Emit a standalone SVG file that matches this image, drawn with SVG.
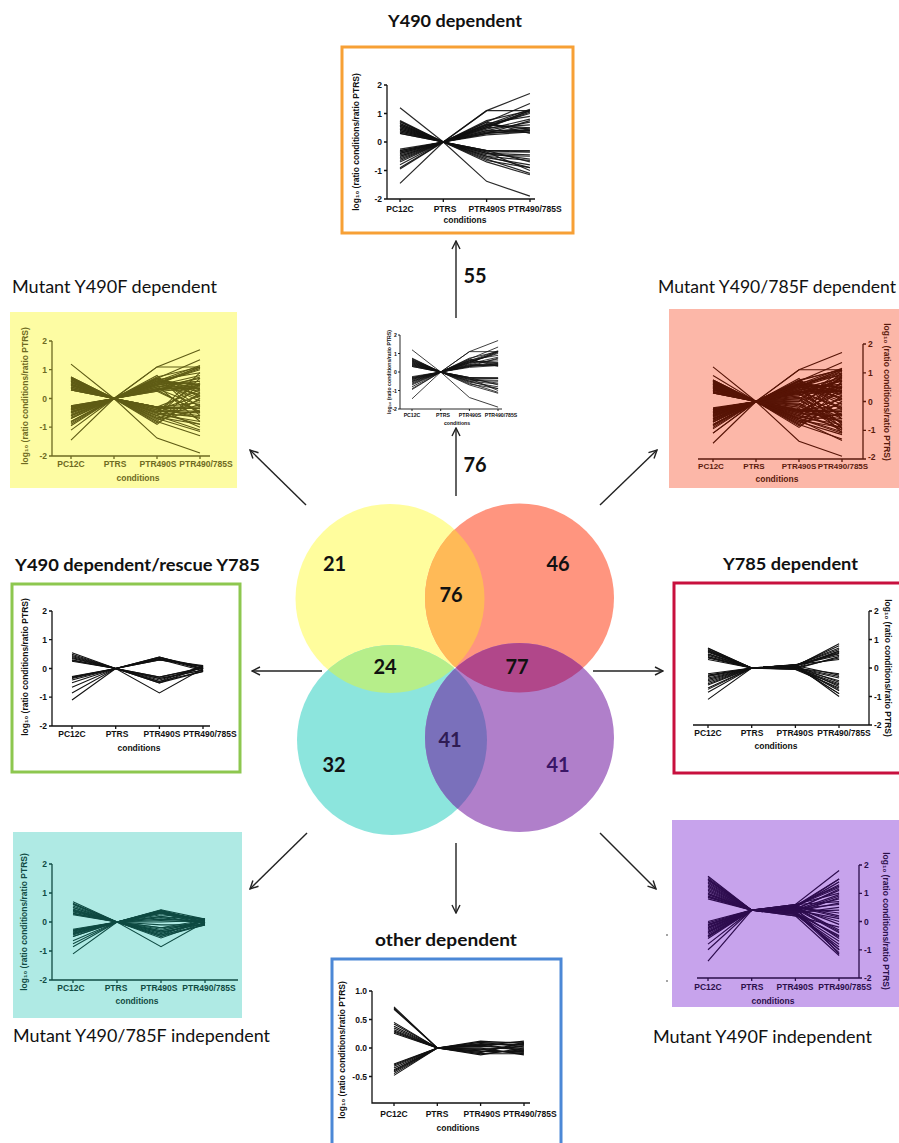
<svg xmlns="http://www.w3.org/2000/svg" xmlns:xlink="http://www.w3.org/1999/xlink" width="899" height="1143" viewBox="0 0 899 1143">
<style>
.ttl{font-family:Lato,"Open Sans","Liberation Sans",sans-serif;font-size:17px;fill:#111}
.b{font-weight:bold}
.num{font-family:Lato,"Open Sans","Liberation Sans",sans-serif;font-weight:bold;font-size:20px;text-anchor:middle;fill:#111}
.ax text{font-family:"Liberation Sans",Arial,sans-serif;font-weight:bold;font-size:8.5px;fill:currentColor}
.ax path{stroke:currentColor;stroke-width:1.3;fill:none}
.ax .m{text-anchor:middle}
.ax .e{text-anchor:end}
.ax .s{text-anchor:start}
.ax .sm{font-size:5.2px}
.d polyline{fill:none;vector-effect:non-scaling-stroke}
.conn line{stroke:#222;stroke-width:1.4;marker-end:url(#ah)}
</style>
<defs>
<marker id="ah" viewBox="0 0 10 10" refX="9" refY="5" markerWidth="10" markerHeight="10" markerUnits="userSpaceOnUse" orient="auto"><path d="M1,1 L9,5 L1,9" fill="none" stroke="#222" stroke-width="1.4"/></marker>
<clipPath id="cY"><circle cx="390" cy="598.5" r="94.5"/></clipPath>
<clipPath id="cR"><circle cx="519.5" cy="598" r="94.5"/></clipPath>
<clipPath id="cT"><circle cx="392" cy="740" r="95"/></clipPath>
<g id="dA" class="d">
<polyline points="0,1.2 1,0 2,-1.38 3,-1.9"/><polyline points="0,-1.45 1,0 2,1.1 3,1.7"/>
<polyline points="0,0.75 1,0 2,0.7 3,1.35"/><polyline points="0,0.7 1,0 2,0.6 3,1.15"/>
<polyline points="0,0.65 1,0 2,0.55 3,1.1"/><polyline points="0,0.6 1,0 2,0.5 3,1.05"/>
<polyline points="0,0.55 1,0 2,0.75 3,1.1"/><polyline points="0,0.5 1,0 2,0.45 3,0.8"/>
<polyline points="0,0.45 1,0 2,0.4 3,0.7"/><polyline points="0,0.4 1,0 2,0.35 3,0.5"/>
<polyline points="0,0.35 1,0 2,0.3 3,0.4"/><polyline points="0,0.3 1,0 2,0.25 3,0.35"/>
<polyline points="0,0.5 1,0 2,-0.3 3,-0.35"/><polyline points="0,0.4 1,0 2,-0.4 3,-0.6"/>
<polyline points="0,0.6 1,0 2,-0.5 3,-0.9"/><polyline points="0,0.35 1,0 2,-0.35 3,-1"/>
<polyline points="0,-0.25 1,0 2,0.3 3,0.45"/><polyline points="0,-0.3 1,0 2,0.4 3,0.4"/>
<polyline points="0,-0.35 1,0 2,0.5 3,0.6"/><polyline points="0,-0.4 1,0 2,0.55 3,1"/>
<polyline points="0,-0.45 1,0 2,0.65 3,0.9"/><polyline points="0,-0.5 1,0 2,0.7 3,0.3"/>
<polyline points="0,-0.55 1,0 2,-0.3 3,-0.3"/><polyline points="0,-0.6 1,0 2,-0.4 3,-0.45"/>
<polyline points="0,-0.65 1,0 2,-0.5 3,-0.65"/><polyline points="0,-0.7 1,0 2,-0.55 3,-0.8"/>
<polyline points="0,-0.8 1,0 2,-0.6 3,-1.1"/><polyline points="0,-0.9 1,0 2,-0.7 3,-1.15"/>
<polyline points="0,-0.95 1,0 2,-0.45 3,-0.5"/><polyline points="0,0.72 1,0 2,0.62 3,0.45"/>
<polyline points="0,0.45 1,0 2,0.5 3,1.1"/><polyline points="0,-0.3 1,0 2,-0.35 3,-0.35"/>
<polyline points="0,-0.4 1,0 2,-0.3 3,-0.7"/><polyline points="0,0.3 1,0 2,0.35 3,0.35"/>
<polyline points="0,0.65 1,0 2,1.1 3,1.1"/><polyline points="0,-0.35 1,0 2,-0.65 3,-0.9"/>
<polyline points="0,0.55 1,0 2,0.3 3,0.75"/><polyline points="0,-0.5 1,0 2,0.6 3,0.5"/>
</g>
<g id="dB" class="d">
<polyline points="0,0.7 1,0 2,0.7 3,0.2"/><polyline points="0,0.65 1,0 2,0.6 3,-0.1"/>
<polyline points="0,0.6 1,0 2,0.55 3,0"/><polyline points="0,0.55 1,0 2,0.7 3,-0.3"/>
<polyline points="0,0.5 1,0 2,0.4 3,0.6"/><polyline points="0,0.45 1,0 2,0.3 3,-0.5"/>
<polyline points="0,0.4 1,0 2,0.65 3,0.1"/><polyline points="0,0.35 1,0 2,0.8 3,-0.6"/>
<polyline points="0,0.3 1,0 2,0.5 3,0.25"/><polyline points="0,-0.25 1,0 2,-0.8 3,0.5"/>
<polyline points="0,-0.3 1,0 2,-0.9 3,0.2"/><polyline points="0,-0.35 1,0 2,-0.7 3,-0.2"/>
<polyline points="0,-0.4 1,0 2,-0.85 3,0"/><polyline points="0,-0.45 1,0 2,-0.6 3,0.7"/>
<polyline points="0,-0.5 1,0 2,-0.75 3,-0.4"/><polyline points="0,-0.6 1,0 2,-0.5 3,0.9"/>
<polyline points="0,-0.7 1,0 2,-0.4 3,0.1"/><polyline points="0,-0.8 1,0 2,-0.3 3,-0.15"/>
<polyline points="0,-1.1 1,0 2,-0.8 3,-1.3"/><polyline points="0,0.75 1,0 2,0.45 3,-0.8"/>
<polyline points="0,0.68 1,0 2,-0.3 3,0.3"/><polyline points="0,0.58 1,0 2,-0.45 3,0.55"/>
<polyline points="0,0.48 1,0 2,-0.6 3,-0.05"/><polyline points="0,-0.28 1,0 2,0.35 3,-0.25"/>
<polyline points="0,-0.38 1,0 2,0.45 3,0.15"/><polyline points="0,-0.48 1,0 2,0.25 3,-0.45"/>
<polyline points="0,-0.58 1,0 2,0.6 3,0.35"/><polyline points="0,-0.85 1,0 2,0.72 3,0.05"/>
</g>
<g id="dC" class="d">
<polyline points="0,0.74 1,0 2,0.2 3,0.9"/><polyline points="0,0.62 1,0 2,0.1 3,0.75"/>
<polyline points="0,0.52 1,0 2,0 3,0.6"/><polyline points="0,0.42 1,0 2,-0.1 3,0.85"/>
<polyline points="0,0.32 1,0 2,-0.2 3,1"/><polyline points="0,0.7 1,0 2,0.15 3,-0.6"/>
<polyline points="0,0.6 1,0 2,0.05 3,-0.75"/><polyline points="0,0.5 1,0 2,-0.05 3,-1"/>
<polyline points="0,0.4 1,0 2,-0.15 3,-0.85"/><polyline points="0,-0.22 1,0 2,0.2 3,0.8"/>
<polyline points="0,-0.32 1,0 2,0.1 3,-0.9"/><polyline points="0,-0.42 1,0 2,0 3,1.1"/>
<polyline points="0,-0.52 1,0 2,-0.1 3,-0.7"/><polyline points="0,-0.62 1,0 2,-0.2 3,0.65"/>
<polyline points="0,-0.72 1,0 2,0.3 3,-1.1"/><polyline points="0,-0.82 1,0 2,-0.25 3,0.55"/>
<polyline points="0,0.9 1,0 2,0.5 3,0.95"/><polyline points="0,-1.1 1,0 2,-0.65 3,-1.35"/>
<polyline points="0,0.66 1,0 2,0.72 3,1.12"/><polyline points="0,-0.36 1,0 2,-0.58 3,-1.05"/>
<polyline points="0,0.56 1,0 2,0.35 3,-0.2"/><polyline points="0,-0.26 1,0 2,-0.35 3,0.4"/>
<polyline points="0,0.46 1,0 2,0.58 3,-0.95"/><polyline points="0,-0.66 1,0 2,0.4 3,0.85"/>
</g>
<g id="dD" class="d">
<polyline points="0,0.55 1,0 2,0.35 3,0.05"/><polyline points="0,0.5 1,0 2,0.4 3,0"/>
<polyline points="0,0.45 1,0 2,0.3 3,0.08"/><polyline points="0,0.42 1,0 2,-0.35 3,-0.05"/>
<polyline points="0,0.38 1,0 2,-0.45 3,0.1"/><polyline points="0,0.35 1,0 2,0.32 3,-0.08"/>
<polyline points="0,0.3 1,0 2,-0.3 3,0.02"/><polyline points="0,0.28 1,0 2,-0.5 3,-0.1"/>
<polyline points="0,0.25 1,0 2,0.38 3,0.06"/><polyline points="0,-0.3 1,0 2,0.35 3,-0.03"/>
<polyline points="0,-0.32 1,0 2,-0.4 3,0.04"/><polyline points="0,-0.35 1,0 2,-0.35 3,-0.06"/>
<polyline points="0,-0.4 1,0 2,-0.85 3,0"/><polyline points="0,-0.5 1,0 2,0.3 3,0.1"/>
<polyline points="0,-0.65 1,0 2,-0.45 3,-0.1"/><polyline points="0,-0.85 1,0 2,-0.3 3,0.03"/>
<polyline points="0,-1.1 1,0 2,0.4 3,-0.02"/><polyline points="0,-0.28 1,0 2,-0.5 3,0.05"/>
</g>
<g id="dE" class="d">
<polyline points="0,0.7 1,0 2,0.42 3,0.1"/><polyline points="0,0.65 1,0 2,0.2 3,-0.05"/>
<polyline points="0,0.6 1,0 2,0.1 3,0.02"/><polyline points="0,0.5 1,0 2,-0.1 3,-0.1"/>
<polyline points="0,0.4 1,0 2,-0.2 3,0.07"/><polyline points="0,0.3 1,0 2,0.15 3,-0.03"/>
<polyline points="0,-0.25 1,0 2,0 3,0.05"/><polyline points="0,-0.3 1,0 2,-0.2 3,-0.08"/>
<polyline points="0,-0.38 1,0 2,0.25 3,0.1"/><polyline points="0,-0.45 1,0 2,-0.55 3,-0.02"/>
<polyline points="0,-0.5 1,0 2,0.05 3,0"/><polyline points="0,-0.75 1,0 2,-0.25 3,0.04"/>
<polyline points="0,0.62 1,0 2,0.3 3,-0.07"/><polyline points="0,-0.42 1,0 2,0.18 3,0.09"/>
</g>
<g id="dF" class="d">
<polyline points="0,0.7 1,0 2,0.05 3,0.85"/><polyline points="0,0.65 1,0 2,0.1 3,0.7"/>
<polyline points="0,0.6 1,0 2,0 3,0.6"/><polyline points="0,0.55 1,0 2,0.08 3,0.5"/>
<polyline points="0,0.5 1,0 2,-0.03 3,0.4"/><polyline points="0,0.45 1,0 2,0.12 3,0.3"/>
<polyline points="0,0.4 1,0 2,0.02 3,-0.3"/><polyline points="0,0.35 1,0 2,0.06 3,-0.5"/>
<polyline points="0,0.3 1,0 2,-0.05 3,-0.7"/><polyline points="0,0.68 1,0 2,0.04 3,-0.9"/>
<polyline points="0,0.58 1,0 2,0.1 3,0.65"/><polyline points="0,0.48 1,0 2,0 3,-0.2"/>
<polyline points="0,-0.2 1,0 2,0.07 3,0.55"/><polyline points="0,-0.25 1,0 2,0 3,-0.35"/>
<polyline points="0,-0.3 1,0 2,0.1 3,0.45"/><polyline points="0,-0.35 1,0 2,-0.04 3,-0.6"/>
<polyline points="0,-0.4 1,0 2,0.05 3,-0.8"/><polyline points="0,-0.45 1,0 2,0.02 3,0.35"/>
<polyline points="0,-0.5 1,0 2,0.11 3,-1"/><polyline points="0,-0.55 1,0 2,-0.02 3,-0.45"/>
<polyline points="0,-0.6 1,0 2,0.06 3,0.6"/><polyline points="0,-0.7 1,0 2,0.03 3,-0.75"/>
<polyline points="0,-0.75 1,0 2,0.09 3,-0.25"/><polyline points="0,-0.85 1,0 2,0 3,-0.55"/>
<polyline points="0,-1.1 1,0 2,0.05 3,-0.9"/><polyline points="0,0.62 1,0 2,0.08 3,0.78"/>
<polyline points="0,-0.28 1,0 2,0.04 3,-0.65"/><polyline points="0,0.38 1,0 2,0.1 3,0.52"/>
</g>
<g id="dG" class="d">
<polyline points="0,1.6 1,0.4 2,0.6 3,1.8"/><polyline points="0,1.5 1,0.4 2,0.5 3,1.5"/>
<polyline points="0,1.4 1,0.4 2,0.55 3,1.3"/><polyline points="0,1.3 1,0.4 2,0.45 3,1.1"/>
<polyline points="0,1.2 1,0.4 2,0.35 3,0.9"/><polyline points="0,1.1 1,0.4 2,0.6 3,0.7"/>
<polyline points="0,1 1,0.4 2,0.3 3,0.5"/><polyline points="0,0.95 1,0.4 2,0.5 3,-0.3"/>
<polyline points="0,0.9 1,0.4 2,0.4 3,-0.6"/><polyline points="0,0.85 1,0.4 2,0.25 3,-0.9"/>
<polyline points="0,0.8 1,0.4 2,0.55 3,0.2"/><polyline points="0,1.55 1,0.4 2,0.3 3,-1.1"/>
<polyline points="0,1.45 1,0.4 2,0.45 3,0"/><polyline points="0,1.25 1,0.4 2,0.2 3,-1.2"/>
<polyline points="0,1.05 1,0.4 2,0.5 3,1.4"/><polyline points="0,0 1,0.4 2,0.55 3,1.2"/>
<polyline points="0,-0.05 1,0.4 2,0.4 3,0.8"/><polyline points="0,-0.1 1,0.4 2,0.3 3,-0.5"/>
<polyline points="0,-0.15 1,0.4 2,0.6 3,1"/><polyline points="0,-0.2 1,0.4 2,0.25 3,-0.8"/>
<polyline points="0,-0.25 1,0.4 2,0.5 3,0.3"/><polyline points="0,-0.3 1,0.4 2,0.35 3,-1"/>
<polyline points="0,-0.35 1,0.4 2,0.45 3,0.6"/><polyline points="0,-0.4 1,0.4 2,0.2 3,-0.2"/>
<polyline points="0,-0.45 1,0.4 2,0.55 3,1.5"/><polyline points="0,-0.5 1,0.4 2,0.3 3,-0.7"/>
<polyline points="0,-0.55 1,0.4 2,0.4 3,0.1"/><polyline points="0,-0.6 1,0.4 2,0.5 3,-1.15"/>
<polyline points="0,-0.8 1,0.4 2,0.35 3,0.4"/><polyline points="0,-1 1,0.4 2,0.45 3,-0.4"/>
<polyline points="0,-1.4 1,0.4 2,0.3 3,-1"/><polyline points="0,1.35 1,0.4 2,0.4 3,0.95"/>
<polyline points="0,1.15 1,0.4 2,0.5 3,-0.1"/><polyline points="0,0.88 1,0.4 2,0.35 3,0.65"/>
<polyline points="0,-0.12 1,0.4 2,0.48 3,-0.35"/><polyline points="0,-0.38 1,0.4 2,0.28 3,0.85"/>
<polyline points="0,-0.52 1,0.4 2,0.42 3,1.15"/><polyline points="0,-0.22 1,0.4 2,0.52 3,0.15"/>
<polyline points="0,1.48 1,0.4 2,0.58 3,1.25"/><polyline points="0,0.98 1,0.4 2,0.32 3,-0.55"/>
</g>
<g id="dH" class="d">
<polyline points="0,0.72 1,0 2,0.05 3,-0.05"/><polyline points="0,0.7 1,0 2,-0.08 3,0.1"/>
<polyline points="0,0.68 1,0 2,0.1 3,0.02"/><polyline points="0,0.45 1,0 2,-0.02 3,-0.1"/>
<polyline points="0,0.42 1,0 2,0.12 3,0.08"/><polyline points="0,0.38 1,0 2,-0.1 3,-0.03"/>
<polyline points="0,0.35 1,0 2,0.04 3,0.12"/><polyline points="0,0.32 1,0 2,-0.05 3,-0.08"/>
<polyline points="0,0.3 1,0 2,0.08 3,0.05"/><polyline points="0,0.28 1,0 2,-0.12 3,0"/>
<polyline points="0,0.26 1,0 2,0 3,-0.12"/><polyline points="0,-0.3 1,0 2,0.06 3,0.06"/>
<polyline points="0,-0.32 1,0 2,-0.06 3,-0.06"/><polyline points="0,-0.35 1,0 2,0.1 3,0.1"/>
<polyline points="0,-0.38 1,0 2,-0.1 3,-0.1"/><polyline points="0,-0.4 1,0 2,0.03 3,0"/>
<polyline points="0,-0.42 1,0 2,-0.03 3,0.04"/><polyline points="0,-0.45 1,0 2,0.07 3,-0.04"/>
<polyline points="0,-0.48 1,0 2,-0.08 3,0.08"/><polyline points="0,-0.28 1,0 2,0 3,-0.02"/>
</g>
</defs>

<rect width="899" height="1143" fill="#ffffff"/>

<!-- Venn -->
<g id="venn">
<circle cx="390" cy="598.5" r="94.5" fill="#FFFD9D"/>
<circle cx="519.5" cy="598" r="94.5" fill="#FF957F"/>
<circle cx="392" cy="740" r="95" fill="#8CE5DD"/>
<circle cx="519.5" cy="737.5" r="94.5" fill="#B07FCA"/>
<circle cx="519.5" cy="598" r="94.5" fill="#FFBA57" clip-path="url(#cY)"/>
<circle cx="392" cy="740" r="95" fill="#B6EE8A" clip-path="url(#cY)"/>
<circle cx="519.5" cy="737.5" r="94.5" fill="#B1478A" clip-path="url(#cR)"/>
<circle cx="519.5" cy="737.5" r="94.5" fill="#7A70BB" clip-path="url(#cT)"/>
<text class="num" x="334.5" y="571">21</text>
<text class="num" x="558" y="571">46</text>
<text class="num" x="451" y="602">76</text>
<text class="num" x="385" y="674">24</text>
<text class="num" x="517" y="674">77</text>
<text class="num" x="334" y="772">32</text>
<text class="num" x="450" y="747" style="fill:#2F1B54">41</text>
<text class="num" x="558" y="772" style="fill:#3A1666">41</text>
</g>

<!-- connectors -->
<g id="connectors" class="conn">
<line x1="456" y1="318" x2="456" y2="241"/>
<line x1="456" y1="496" x2="456" y2="428"/>
<line x1="306" y1="505" x2="250" y2="450"/>
<line x1="600" y1="505" x2="657" y2="450"/>
<line x1="322" y1="671" x2="252" y2="671"/>
<line x1="593" y1="671" x2="663" y2="671"/>
<line x1="307" y1="833" x2="250" y2="889"/>
<line x1="456" y1="843" x2="456" y2="913"/>
<line x1="600" y1="833" x2="656" y2="889"/>
<text class="num" x="475" y="283">55</text>
<text class="num" x="475" y="472">76</text>
</g>

<!-- Top: Y490 dependent -->
<g id="n-y490">
<text class="ttl b" x="455" y="27" text-anchor="middle" textLength="134" lengthAdjust="spacingAndGlyphs">Y490 dependent</text>
<rect x="342" y="47" width="231" height="186" fill="#fff" stroke="#F7A035" stroke-width="3"/>
<use href="#dA" transform="translate(400,142) scale(43.3,-28.5)" stroke="#111" stroke-width="1.2" stroke-opacity="0.9"/>
<g class="ax" style="color:#111">
<path d="M387,85V199H535M384,85H387M384,113.5H387M384,142H387M384,170.5H387M384,199H387M400,199v3M443.3,199v3M486.6,199v3M530,199v3"/>
<text class="e" x="382" y="88">2</text><text class="e" x="382" y="116.5">1</text><text class="e" x="382" y="145">0</text><text class="e" x="382" y="173.5">-1</text><text class="e" x="382" y="202">-2</text>
<text class="m" x="400" y="212">PC12C</text><text class="m" x="445" y="212">PTRS</text><text class="m" x="487" y="212">PTR490S</text><text class="m" x="535" y="212">PTR490/785S</text>
<text class="m" x="465" y="223">conditions</text>
<text class="m" transform="translate(359,142) rotate(-90)">log₁₀ (ratio conditions/ratio PTRS)</text>
</g>
</g>

<!-- Center small plot -->
<g id="n-center">
<use href="#dA" transform="translate(412,372) scale(28.7,-18.5)" stroke="#111" stroke-width="0.9" stroke-opacity="0.9"/>
<g class="ax" style="color:#111">
<path d="M400,335V409H502M398,335H400M398,353.5H400M398,372H400M398,390.5H400M398,409H400M412,409v2M440.7,409v2M469.4,409v2M498,409v2" style="stroke-width:0.9"/>
<text class="e sm" x="397" y="337">2</text><text class="e sm" x="397" y="355.5">1</text><text class="e sm" x="397" y="374">0</text><text class="e sm" x="397" y="392.5">-1</text><text class="e sm" x="397" y="411">-2</text>
<text class="m sm" x="412" y="417">PC12C</text><text class="m sm" x="443" y="417">PTRS</text><text class="m sm" x="470" y="417">PTR490S</text><text class="m sm" x="501" y="417">PTR490/785S</text>
<text class="m sm" x="457" y="425">conditions</text>
<text class="m sm" transform="translate(391,372) rotate(-90)">log₁₀ (ratio conditions/ratio PTRS)</text>
</g>
</g>

<!-- Mutant Y490F dependent (yellow) -->
<g id="n-mut-y490f-dep">
<text class="ttl" x="12" y="293" textLength="205" lengthAdjust="spacingAndGlyphs">Mutant Y490F dependent</text>
<rect x="10" y="312" width="227" height="176" fill="#FDFCA3"/>
<use href="#dA" transform="translate(71,398.5) scale(43,-28.7)" stroke="#5F5C15" stroke-width="1.1"/>
<use href="#dB" transform="translate(71,398.5) scale(43,-28.7)" stroke="#5F5C15" stroke-width="1.1"/>
<g class="ax" style="color:#6E6A22">
<path d="M52,341V456H210M49,341H52M49,369.7H52M49,398.5H52M49,427.2H52M49,456H52M71,456v3M114,456v3M157,456v3M200,456v3"/>
<text class="e" x="47" y="344">2</text><text class="e" x="47" y="372.7">1</text><text class="e" x="47" y="401.5">0</text><text class="e" x="47" y="430.2">-1</text><text class="e" x="47" y="459">-2</text>
<text class="m" x="71" y="467">PC12C</text><text class="m" x="115" y="467">PTRS</text><text class="m" x="158" y="467">PTR490S</text><text class="m" x="206" y="467">PTR490/785S</text>
<text class="m" x="138" y="481">conditions</text>
<text class="m" transform="translate(28,396) rotate(-90)">log₁₀ (ratio conditions/ratio PTRS)</text>
</g>
</g>

<!-- Mutant Y490/785F dependent (red) -->
<g id="n-mut-y490-785f-dep">
<text class="ttl" x="658" y="293" textLength="238" lengthAdjust="spacingAndGlyphs">Mutant Y490/785F dependent</text>
<rect x="669" y="309" width="235" height="179" fill="#FCB7A8"/>
<use href="#dA" transform="translate(713,401.5) scale(43,-28.8)" stroke="#571406" stroke-width="1.1"/>
<use href="#dB" transform="translate(713,401.5) scale(43,-28.8)" stroke="#571406" stroke-width="1.1"/>
<use href="#dC" transform="translate(713,401.5) scale(43,-28.8)" stroke="#571406" stroke-width="1.1"/>
<g class="ax" style="color:#5A1A0C">
<path d="M863,344V459H698M863,344H866M863,372.8H866M863,401.5H866M863,430.3H866M863,459H866M713,459v3M756,459v3M799,459v3M842,459v3"/>
<text class="s" x="868" y="347">2</text><text class="s" x="868" y="375.8">1</text><text class="s" x="868" y="404.5">0</text><text class="s" x="868" y="433.3">-1</text><text class="s" x="868" y="460">-2</text>
<text class="m" x="711" y="469" style="font-size:8px">PC12C</text><text class="m" x="754" y="469" style="font-size:8px">PTRS</text><text class="m" x="799" y="469" style="font-size:8px">PTR490S</text><text class="m" x="843" y="469" style="font-size:8px">PTR490/785S</text>
<text class="m" x="777" y="482">conditions</text>
<text class="m" transform="translate(884,392) rotate(90)">log₁₀ (ratio conditions/ratio PTRS)</text>
</g>
</g>

<!-- Y490 dependent/rescue Y785 (green) -->
<g id="n-y490-rescue">
<text class="ttl b" x="15" y="571" textLength="245" lengthAdjust="spacingAndGlyphs">Y490 dependent/rescue Y785</text>
<rect x="12" y="584" width="228" height="188" fill="#fff" stroke="#8DC74F" stroke-width="3"/>
<use href="#dD" transform="translate(72,668.5) scale(43.7,-28.7)" stroke="#111" stroke-width="1.1"/>
<g class="ax" style="color:#111">
<path d="M52,611V726H210M49,611H52M49,639.7H52M49,668.5H52M49,697.2H52M49,726H52M72,726v3M115.7,726v3M159.4,726v3M203,726v3"/>
<text class="e" x="47" y="614">2</text><text class="e" x="47" y="642.7">1</text><text class="e" x="47" y="671.5">0</text><text class="e" x="47" y="700.2">-1</text><text class="e" x="47" y="729">-2</text>
<text class="m" x="72" y="737">PC12C</text><text class="m" x="117" y="737">PTRS</text><text class="m" x="162" y="737">PTR490S</text><text class="m" x="210" y="737">PTR490/785S</text>
<text class="m" x="139" y="751">conditions</text>
<text class="m" transform="translate(28,667) rotate(-90)">log₁₀ (ratio conditions/ratio PTRS)</text>
</g>
</g>

<!-- Y785 dependent (crimson) -->
<g id="n-y785">
<text class="ttl b" x="723" y="570" textLength="135" lengthAdjust="spacingAndGlyphs">Y785 dependent</text>
<rect x="674" y="583" width="240" height="190" fill="#fff" stroke="#C8103E" stroke-width="3"/>
<use href="#dF" transform="translate(708,668) scale(43.7,-28.5)" stroke="#111" stroke-width="1.1"/>
<g class="ax" style="color:#111">
<path d="M869,611V725H693M869,611H872M869,639.5H872M869,668H872M869,696.5H872M869,725H872M708,725v3M751.7,725v3M795.4,725v3M839,725v3"/>
<text class="s" x="874" y="614">2</text><text class="s" x="874" y="642.5">1</text><text class="s" x="874" y="671">0</text><text class="s" x="874" y="699.5">-1</text><text class="s" x="874" y="728">-2</text>
<text class="m" x="708" y="736">PC12C</text><text class="m" x="752" y="736">PTRS</text><text class="m" x="795" y="736">PTR490S</text><text class="m" x="844" y="736">PTR490/785S</text>
<text class="m" x="776" y="749">conditions</text>
<text class="m" transform="translate(885,668) rotate(90)">log₁₀ (ratio conditions/ratio PTRS)</text>
</g>
</g>

<!-- Mutant Y490/785F independent (teal) -->
<g id="n-mut-y490-785f-indep">
<rect x="13" y="832" width="229" height="186" fill="#AFEAE4"/>
<use href="#dD" transform="translate(73,922) scale(44,-29)" stroke="#0E4A42" stroke-width="1.1"/>
<use href="#dE" transform="translate(73,922) scale(44,-29)" stroke="#0E4A42" stroke-width="1.1"/>
<g class="ax" style="color:#114B43">
<path d="M52,864V980H238M49,864H52M49,893H52M49,922H52M49,951H52M49,980H52M73,980v3M117,980v3M161,980v3M205,980v3"/>
<text class="e" x="47" y="867">2</text><text class="e" x="47" y="896">1</text><text class="e" x="47" y="925">0</text><text class="e" x="47" y="954">-1</text><text class="e" x="47" y="983">-2</text>
<text class="m" x="71" y="991">PC12C</text><text class="m" x="116" y="991">PTRS</text><text class="m" x="159" y="991">PTR490S</text><text class="m" x="209" y="991">PTR490/785S</text>
<text class="m" x="137" y="1004">conditions</text>
<text class="m" transform="translate(27,922) rotate(-90)">log₁₀ (ratio conditions/ratio PTRS)</text>
</g>
<text class="ttl" x="13" y="1042" textLength="257" lengthAdjust="spacingAndGlyphs">Mutant Y490/785F independent</text>
</g>

<!-- Mutant Y490F independent (purple) -->
<g id="n-mut-y490f-indep">
<rect x="672" y="820" width="232" height="187" fill="#C7A3EC"/>
<use href="#dG" transform="translate(708,921.5) scale(43.7,-28.3)" stroke="#2D0C4E" stroke-width="1.2"/>
<g class="ax" style="color:#2B0F4A">
<path d="M859,865V978H697M859,865H862M859,893.3H862M859,921.5H862M859,949.8H862M859,978H862M708,978v3M751.7,978v3M795.4,978v3M839,978v3"/>
<text class="s" x="864" y="868">2</text><text class="s" x="864" y="896.3">1</text><text class="s" x="864" y="924.5">0</text><text class="s" x="864" y="952.8">-1</text><text class="s" x="864" y="981">-2</text>
<text class="m" x="708" y="990">PC12C</text><text class="m" x="752" y="990">PTRS</text><text class="m" x="795" y="990">PTR490S</text><text class="m" x="845" y="990">PTR490/785S</text>
<text class="m" x="773" y="1004">conditions</text>
<text class="m" transform="translate(883,921) rotate(90)">log₁₀ (ratio conditions/ratio PTRS)</text>
</g>
<circle cx="667" cy="935" r="0.8" fill="#333"/>
<circle cx="667" cy="981" r="0.8" fill="#333"/>
<text class="ttl" x="653" y="1043" textLength="219" lengthAdjust="spacingAndGlyphs">Mutant Y490F independent</text>
</g>

<!-- other dependent (blue) -->
<g id="n-other">
<text class="ttl b" x="375" y="946" textLength="142" lengthAdjust="spacingAndGlyphs">other dependent</text>
<rect x="332" y="959" width="229" height="200" fill="#fff" stroke="#4C88D6" stroke-width="3"/>
<use href="#dH" transform="translate(394,1048) scale(43.3,-57)" stroke="#111" stroke-width="1.1"/>
<g class="ax" style="color:#111">
<path d="M372,991V1103H530M369,991H372M369,1019.5H372M369,1048H372M369,1076.5H372M394,1103v3M437.3,1103v3M480.6,1103v3M524,1103v3"/>
<text class="e" x="367" y="994">1.0</text><text class="e" x="367" y="1022.5">0.5</text><text class="e" x="367" y="1051">0.0</text><text class="e" x="367" y="1079.5">-0.5</text>
<text class="m" x="394" y="1117">PC12C</text><text class="m" x="437" y="1117">PTRS</text><text class="m" x="482" y="1117">PTR490S</text><text class="m" x="530" y="1117">PTR490/785S</text>
<text class="m" x="458" y="1131">conditions</text>
<text class="m" transform="translate(345,1050) rotate(-90)">log₁₀ (ratio conditions/ratio PTRS)</text>
</g>
</g>
</svg>
